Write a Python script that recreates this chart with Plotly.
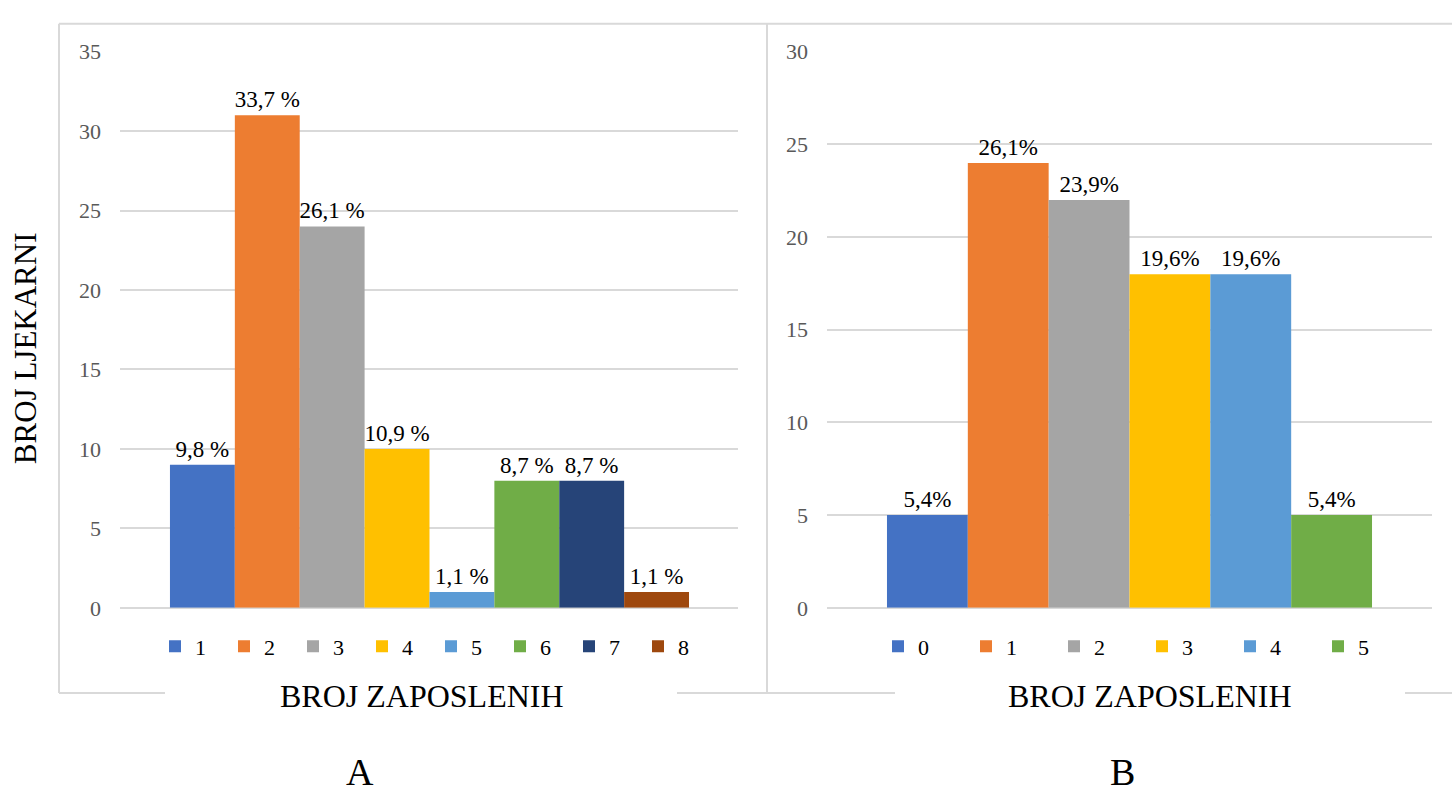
import plotly.graph_objects as go

W, H = 1452, 801

# ---- data ----
cats_a = ["1", "2", "3", "4", "5", "6", "7", "8"]
vals_a = [9, 31, 24, 10, 1, 8, 8, 1]
labels_a = ["9,8 %", "33,7 %", "26,1 %", "10,9 %", "1,1 %", "8,7 %", "8,7 %", "1,1 %"]

cats_b = ["0", "1", "2", "3", "4", "5"]
vals_b = [5, 24, 22, 18, 18, 5]
labels_b = ["5,4%", "26,1%", "23,9%", "19,6%", "19,6%", "5,4%"]

colors = ["#4472C4", "#ED7D31", "#A5A5A5", "#FFC000", "#5B9BD5", "#70AD47", "#264478", "#9E480E"]

y_title = "BROJ LJEKARNI"
x_title = "BROJ ZAPOSLENIH"
panel_names = ["A", "B"]

FONT = "Liberation Serif, Times New Roman, serif"
GRID = "#d9d9d9"

def px(x):
    return x / W

def py(y):
    return 1 - y / H

fig = go.Figure()

for i, (c, v, t) in enumerate(zip(cats_a, vals_a, labels_a)):
    fig.add_trace(go.Bar(
        x=[i + 1], y=[v], width=1, name=c, text=[t],
        marker=dict(color=colors[i], line=dict(width=0)),
        textposition="outside", constraintext="none", cliponaxis=False,
        textfont=dict(family=FONT, size=23, color="#000000"),
        xaxis="x", yaxis="y", legend="legend", hoverinfo="name+y",
    ))

for i, (c, v, t) in enumerate(zip(cats_b, vals_b, labels_b)):
    fig.add_trace(go.Bar(
        x=[i], y=[v], width=1, name=c, text=[t],
        marker=dict(color=colors[i], line=dict(width=0)),
        textposition="outside", constraintext="none", cliponaxis=False,
        textfont=dict(family=FONT, size=23, color="#000000"),
        xaxis="x2", yaxis="y2", legend="legend2", hoverinfo="name+y",
    ))

ydom = [py(615), py(41)]
axis_common = dict(showgrid=True, gridcolor=GRID, gridwidth=1.5, zeroline=True,
                   zerolinecolor=GRID, zerolinewidth=1.5, showline=False, ticks="",
                   tickfont=dict(family=FONT, size=22, color="#595959"),
                   ticklabelstandoff=18, dtick=5, fixedrange=True)

fig.update_layout(
    width=W, height=H,
    margin=dict(l=0, r=0, t=0, b=0),
    paper_bgcolor="white", plot_bgcolor="white",
    barmode="overlay",
    font=dict(family=FONT, color="#000000"),
    xaxis=dict(domain=[px(120), px(738)], range=[-0.27, 9.255], showticklabels=False,
               showgrid=False, zeroline=False, ticks="", fixedrange=True),
    yaxis=dict(domain=ydom, range=[0, 35], anchor="x", **axis_common),
    xaxis2=dict(domain=[px(827), px(1432)], range=[-1.242, 6.242], showticklabels=False,
                showgrid=False, zeroline=False, ticks="", fixedrange=True, anchor="y2"),
    yaxis2=dict(domain=ydom, range=[0, 30], anchor="x2", **axis_common),
    legend=dict(orientation="h", x=px(431), xanchor="center", y=py(655), yanchor="middle",
                font=dict(family=FONT, size=22, color="#000000"), itemwidth=30,
                entrywidth=24, entrywidthmode="pixels", bgcolor="rgba(0,0,0,0)",
                traceorder="normal"),
    legend2=dict(orientation="h", x=px(1142), xanchor="center", y=py(655), yanchor="middle",
                 font=dict(family=FONT, size=22, color="#000000"), itemwidth=30,
                 entrywidth=43, entrywidthmode="pixels", bgcolor="rgba(0,0,0,0)",
                 traceorder="normal"),
    showlegend=True,
)

# chart-area borders (gray frame, broken under the axis titles)
border = dict(color=GRID, width=2)
segments = [
    (59, 12, 59, 703), (59, 12, 1452, 12), (767, 12, 767, 703),
    (59, 703, 165, 703), (677, 703, 895, 703), (1405, 703, 1452, 703),
]
for x0, y0, x1, y1 in segments:
    fig.add_shape(type="line", xref="paper", yref="paper",
                  x0=px(x0), y0=py(y0), x1=px(x1), y1=py(y1), line=border, layer="below")

def note(text, x, y, size, angle=0):
    fig.add_annotation(text=text, xref="paper", yref="paper", x=px(x), y=py(y),
                       xanchor="center", yanchor="middle", textangle=angle,
                       showarrow=False, font=dict(family=FONT, size=size, color="#000000"))

note(y_title, 25, 347, 31, -90)
note(x_title, 422, 706, 32)
note(x_title, 1150, 706, 32)
note(panel_names[0], 360, 784, 38)
note(panel_names[1], 1122, 784, 38)

fig.write_html("out.html", config={"displayModeBar": False},
               post_script="document.body.style.margin='0';document.body.style.overflow='hidden';")
